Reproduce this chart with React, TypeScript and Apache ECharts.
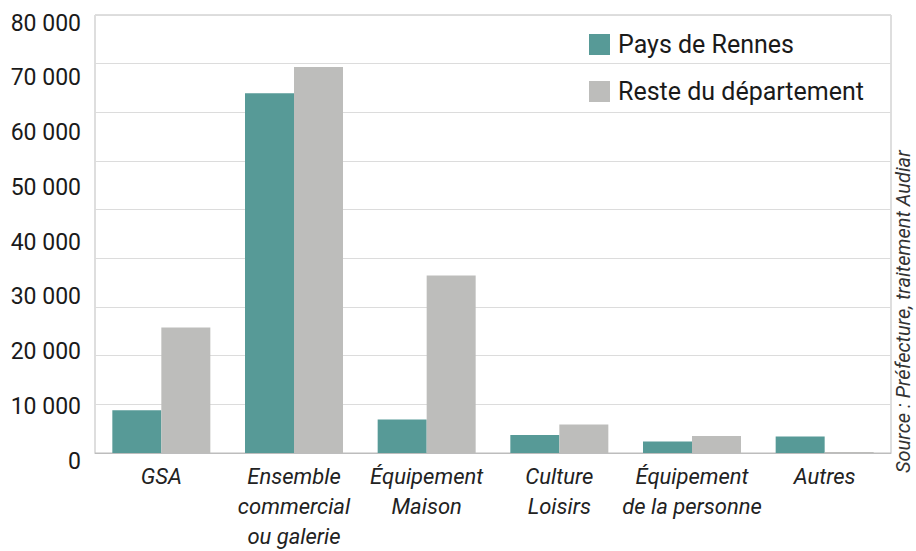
import React, { useEffect, useRef } from "react";
import * as echarts from "echarts";

const categories = [
  "GSA",
  "Ensemble\ncommercial\nou galerie",
  "Équipement\nMaison",
  "Culture\nLoisirs",
  "Équipement\nde la personne",
  "Autres",
];
const paysDeRennes = [7800, 65700, 6100, 3300, 2100, 3000];
const resteDepartement = [22900, 70500, 32400, 5200, 3100, 200];
const seriesNames = ["Pays de Rennes", "Reste du département"];
const sourceText = "Source : Préfecture, traitement Audiar";

const FONT = "Roboto, 'Liberation Sans', sans-serif";

export default function App() {
  const ref = useRef<HTMLDivElement>(null);
  useEffect(() => {
    if (!ref.current) return;
    const chart = echarts.init(ref.current, undefined, { renderer: "svg" });
    chart.setOption({
      animation: false,
      backgroundColor: "#ffffff",
      textStyle: { fontFamily: FONT },
      grid: {
        left: 95,
        right: 25,
        top: 15,
        bottom: 86,
        show: true,
        borderColor: "#bdbdbd",
        borderWidth: 1,
      },
      legend: {
        orient: "vertical",
        left: 589,
        top: 32,
        padding: 0,
        itemWidth: 21,
        itemHeight: 21,
        itemGap: 22,
        icon: "rect",
        textStyle: { fontSize: 25, color: "#1a1a1a", fontFamily: FONT, padding: [0, 0, 0, 3] },
        data: seriesNames,
      },
      xAxis: {
        type: "category",
        data: categories,
        axisLine: { lineStyle: { color: "#bdbdbd" } },
        axisTick: { show: false },
        axisLabel: {
          interval: 0,
          fontSize: 22,
          fontStyle: "italic",
          lineHeight: 30,
          color: "#222",
          margin: 8,
          fontFamily: FONT,
        },
      },
      yAxis: [
        {
          type: "value",
          min: 0,
          max: 80000,
          interval: 10000,
          splitLine: { show: false },
          axisLine: { show: false },
          axisTick: { show: false },
          axisLabel: {
            fontSize: 23,
            color: "#1a1a1a",
            margin: 14,
            verticalAlign: "top",
            lineHeight: 16,
            fontFamily: FONT,
            formatter: (v: number) => (v === 0 ? "0" : String(v).replace(/\B(?=(\d{3})+(?!\d))/g, " ")),
          },
        },
        {
          type: "value",
          min: 0,
          max: 9,
          interval: 1,
          position: "left",
          axisLine: { show: false },
          axisTick: { show: false },
          axisLabel: { show: false },
          splitLine: { show: true, lineStyle: { color: "#dcdcdc", width: 1 } },
        },
      ],
      series: [
        {
          name: seriesNames[0],
          type: "bar",
          data: paysDeRennes,
          barWidth: 49,
          barGap: "0%",
          itemStyle: { color: "#579a97" },
          yAxisIndex: 0,
        },
        {
          name: seriesNames[1],
          type: "bar",
          data: resteDepartement,
          barWidth: 49,
          barGap: "0%",
          itemStyle: { color: "#bdbdbb" },
          yAxisIndex: 0,
        },
      ],
      graphic: [
        {
          type: "text",
          x: 903,
          y: 473,
          rotation: Math.PI / 2,
          style: {
            text: sourceText,
            fontSize: 20,
            fontStyle: "italic",
            fontFamily: FONT,
            fill: "#333",
            textAlign: "left",
            textVerticalAlign: "middle",
          },
        },
      ],
    });
    return () => chart.dispose();
  }, []);
  return <div ref={ref} style={{ position: "fixed", left: 0, top: 0, width: 916, height: 551 }} />;
}
